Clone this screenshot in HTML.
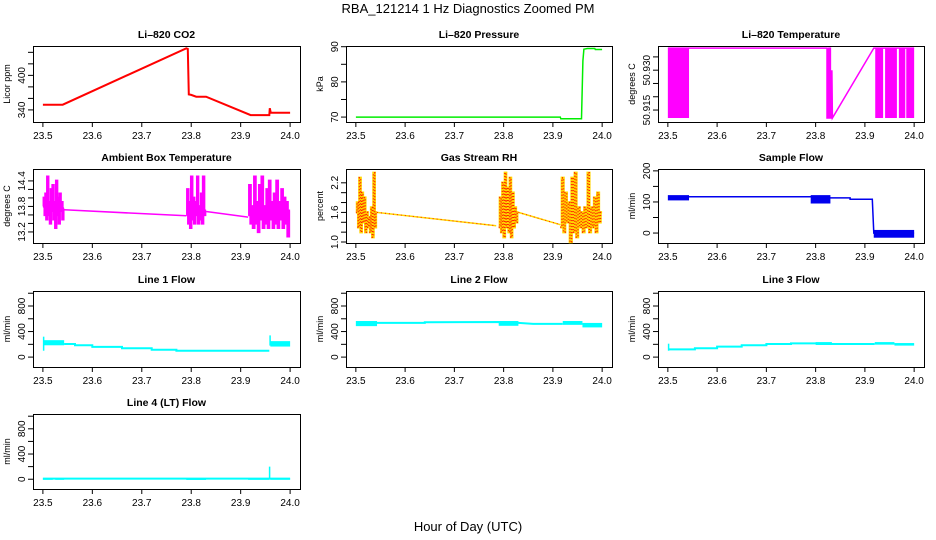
<!DOCTYPE html>
<html><head><meta charset="utf-8"><style>
body{margin:0;background:#fff;}
svg{display:block;font-family:"Liberation Sans",Arial,sans-serif;}
</style></head><body>
<svg id="chart" width="936" height="540" viewBox="0 0 936 540">
<text x="468" y="13" text-anchor="middle" font-size="13">RBA_121214  1 Hz Diagnostics Zoomed PM</text>
<text x="468" y="531" text-anchor="middle" font-size="13">Hour of Day (UTC)</text>
</svg>
<script>
// ---------- data ----------
const xTicks = [23.5, 23.6, 23.7, 23.8, 23.9, 24.0];
const xTickLabels = ["23.5", "23.6", "23.7", "23.8", "23.9", "24.0"];

const co2Line = [[23.5,349],[23.54,349],[23.79,447],[23.793,446],[23.795,367],[23.80,366],[23.81,363],[23.83,363],[23.92,331],[23.958,331],[23.959,343],[23.961,335],[24.0,335]];
const co2Ticks = [340,360,380,400,420,440];
const co2Labels = ["340","","","400","",""];

const presLine = [[23.5,70],[23.915,70],[23.916,69.5],[23.958,69.5],[23.961,86],[23.963,89.3],[23.97,89.5],[23.985,89.5],[23.986,89.2],[24.0,89.2]];
const presTicks = [70,75,80,85,90];
const presLabels = ["70","","80","","90"];

const ltBands = [[23.5,23.543,50.912,50.9383],[23.823,23.827,50.912,50.9383],[23.921,23.937,50.912,50.9383],[23.941,23.965,50.912,50.9383],[23.969,23.982,50.912,50.9383],[23.984,24.0,50.912,50.9383]];
const ltLine = [[23.5,50.9383],[23.823,50.9383],[23.823,50.912],[23.827,50.912],[23.827,50.9383],[23.83,50.9383],[23.83,50.912],[23.833,50.912],[23.833,50.93],[23.834,50.912],[23.918,50.9383],[24.0,50.9383]];
const ltTicks = [50.915,50.920,50.925,50.930,50.935];
const ltLabels = ["50.915","","","50.930",""];

const ambBurst1 = [13.8,14.0,13.6,14.1,13.5,14.5,13.6,13.9,13.4,14.2,13.7,14.3,13.5,13.9,13.3,14.4,13.6,14.0,13.4,14.1,13.7,13.9,13.5,13.75];
const ambBurst2 = [13.6,14.2,13.4,13.9,13.3,14.5,13.5,14.0,13.4,13.9,13.6,14.5,13.4,13.8,13.5,14.1,13.4,14.5,13.6,13.7];
const ambBurst3 = [13.6,14.3,13.4,13.8,13.3,14.5,13.4,13.9,13.2,14.3,13.5,14.5,13.3,13.8,13.4,14.2,13.3,14.4,13.5,13.9,13.3,14.1,13.4,14.4,13.3,13.9,13.5,14.2,13.3,14.0,13.4,13.9,13.1,13.7];
const ambLine = [[23.543,13.72],[23.79,13.58],[23.83,13.68],[23.915,13.55]];
const ambTicks = [13.2,13.4,13.6,13.8,14.0,14.2,14.4];
const ambLabels = ["13.2","","","13.8","","","14.4"];

const rhBurst1 = [1.6,1.8,1.3,2.3,1.2,2.0,1.4,1.9,1.2,1.6,1.3,1.5,1.2,1.7,1.1,2.4,1.3,1.6];
const rhBurst2 = [1.3,1.9,1.2,2.2,1.1,2.4,1.3,2.1,1.2,2.3,1.1,2.0,1.3,1.7,1.4,1.6];
const rhBurst3 = [1.3,2.3,1.2,2.0,1.4,1.8,1.0,2.3,1.2,2.4,1.1,1.7,1.3,1.6,1.2,1.7,1.3,2.4,1.2,1.7,1.3,1.9,1.2,2.0,1.4,1.6];
const rhLine = [[23.543,1.6],[23.785,1.33],[23.83,1.6],[23.915,1.35]];
const rhTicks = [1.0,1.2,1.4,1.6,1.8,2.0,2.2];
const rhLabels = ["1.0","","","1.6","","","2.2"];

const sfBands = [[23.5,23.543,105,122],[23.79,23.83,95,122],[23.918,24.0,-15,10]];
const sfLine = [[23.543,117],[23.79,117],[23.83,113],[23.87,113],[23.87,109],[23.915,109],[23.918,0],[24.0,0]];
const flowTicksSmall = [0,50,100,150,200];
const flowLabelsSmall = ["0","","100","","200"];

const l1Bands = [[23.5,23.502,100,320],[23.502,23.543,185,265],[23.958,23.96,180,340],[23.96,24.0,165,250]];
const l1Line = [[23.543,205],[23.565,205],[23.565,185],[23.6,185],[23.6,160],[23.66,160],[23.66,140],[23.72,140],[23.72,115],[23.77,115],[23.77,100],[23.958,100]];
const l2Bands = [[23.5,23.543,485,565],[23.79,23.83,490,565],[23.92,23.96,505,565],[23.96,24.0,465,535]];
const l2Line = [[23.543,535],[23.64,535],[23.64,545],[23.79,550],[23.83,535],[23.86,520],[23.92,520]];
const l3Bands = [[23.5,23.502,100,210],[23.8,23.833,190,235],[23.92,23.96,195,235],[23.96,24.0,180,220]];
const l3Line = [[23.502,120],[23.555,120],[23.555,140],[23.6,140],[23.6,165],[23.65,165],[23.65,185],[23.7,185],[23.7,205],[23.75,205],[23.75,215],[23.8,215],[23.833,205],[23.92,205]];
const l4Bands = [[23.5,23.52,-10,15],[23.525,23.543,-10,15],[23.79,23.83,-10,12],[23.915,23.958,-10,15],[23.957,23.959,0,200],[23.96,24.0,-5,15]];
const l4Line = [[23.5,10],[24.0,10]];
const flowTicks = [0,200,400,600,800,1000];
const flowLabels = ["0","","400","","800",""];

// ---------- layout ----------
const NS = "http://www.w3.org/2000/svg";
const svg = document.getElementById('chart');
const colBox = [[33,300],[346,612],[658,924]];
const rowBox = [[46,122],[169,243],[291,367],[414,489]];
function mk(tag, attrs, parent){
  const e = document.createElementNS(NS, tag);
  for (const k in attrs) e.setAttribute(k, attrs[k]);
  (parent||svg).appendChild(e);
  return e;
}
function panel(col,row,title,ylab,ymin,ymax,yt,ytl,name){
  const [bx0,bx1]=colBox[col],[by0,by1]=rowBox[row];
  const g = mk('g',{});
  
  
  const X = v => bx0 + (v-23.48)/(24.02-23.48)*(bx1-bx0);
  const Y = v => by1 - (v-ymin)/(ymax-ymin)*(by1-by0);
  const t = mk('text',{x:(bx0+bx1)/2,y:by0-8,'text-anchor':'middle','font-size':10.5,'font-weight':'bold'},g);
  t.textContent = title;
  
  
  const yl = mk('text',{transform:`translate(${bx0-23},${(by0+by1)/2}) rotate(-90)`,'text-anchor':'middle','font-size':9},g);
  yl.textContent = ylab;
  
  
  const xa = mk('g',{stroke:'#000','stroke-width':1},g);
  
  
  mk('line',{x1:X(xTicks[0]),x2:X(xTicks[xTicks.length-1]),y1:by1+0.5,y2:by1+0.5},xa);
  xTicks.forEach((v,i)=>{
    mk('line',{x1:X(v),x2:X(v),y1:by1,y2:by1+5},xa);
    const tl = mk('text',{x:X(v),y:by1+17,'text-anchor':'middle','font-size':10,stroke:'none'},g);
    tl.textContent = xTickLabels[i];
    
    
  });
  const ya = mk('g',{stroke:'#000','stroke-width':1},g);
  
  
  yt.forEach((v,i)=>{
    mk('line',{x1:bx0-5,x2:bx0,y1:Y(v),y2:Y(v)},ya);
    if(ytl[i]){
      const tl = mk('text',{transform:`translate(${bx0-8},${Y(v)}) rotate(-90)`,'text-anchor':'middle','font-size':10,stroke:'none'},g);
      tl.textContent = ytl[i];
      
      
    }
  });
  mk('line',{x1:bx0+0.5,x2:bx0+0.5,y1:Y(yt[0]),y2:Y(yt[yt.length-1])},ya);
  const box = mk('rect',{x:bx0+0.5,y:by0+0.5,width:bx1-bx0,height:by1-by0,fill:'none',stroke:'#000'},g);
  
  
  const plot = mk('g',{},g);
  
  
  return {X,Y,plot};
}
function drawLine(p,pts,color,w,name){
  const e = mk('polyline',{points:pts.map(d=>p.X(d[0]).toFixed(1)+','+p.Y(d[1]).toFixed(1)).join(' '),fill:'none',stroke:color,'stroke-width':w},p.plot);
  
  
  return e;
}
function drawBands(p,bands,color,name){
  bands.forEach(b=>{
    const x0=p.X(b[0]),x1=p.X(b[1]),y0=p.Y(b[3]),y1=p.Y(b[2]);
    const r = mk('rect',{x:x0,y:y0,width:Math.max(1.5,x1-x0),height:Math.max(1.5,y1-y0),fill:color},p.plot);
    
    
  });
}
function burst(x0,x1,vals){
  const pts=[];
  vals.forEach((v,i)=>{
    const a=x0+(x1-x0)*i/vals.length, b=x0+(x1-x0)*(i+1)/vals.length;
    pts.push([a,v],[b,v]);
  });
  return pts;
}

// ---------- panels ----------
let p;
p = panel(0,0,'Li\u2013820 CO2','Licor ppm',319,451,co2Ticks,co2Labels,'co2');
drawLine(p,co2Line,'#ff0000',2,'co2-line');

p = panel(1,0,'Li\u2013820 Pressure','kPa',68.6,90.2,presTicks,presLabels,'pressure');
drawLine(p,presLine,'#00ee00',1.5,'pressure-line');

p = panel(2,0,'Li\u2013820 Temperature','degrees C',50.9105,50.9391,ltTicks,ltLabels,'li820-temp');
drawBands(p,ltBands,'#ff00ff','li820-temp-block');
drawLine(p,ltLine,'#ff00ff',1.5,'li820-temp-line');

p = panel(0,1,'Ambient Box Temperature','degrees C',12.94,14.68,ambTicks,ambLabels,'ambient-temp');
drawLine(p,burst(23.5,23.543,ambBurst1),'#ff00ff',2.5,'ambient-burst-1');
drawLine(p,burst(23.79,23.83,ambBurst2),'#ff00ff',2.5,'ambient-burst-2');
drawLine(p,burst(23.915,24.0,ambBurst3),'#ff00ff',2.5,'ambient-burst-3');
drawLine(p,ambLine.slice(0,2),'#ff00ff',1.5,'ambient-line-1');
drawLine(p,ambLine.slice(2),'#ff00ff',1.5,'ambient-line-2');

p = panel(1,1,'Gas Stream RH','percent',0.98,2.48,rhTicks,rhLabels,'gas-rh');
[[23.5,23.543,rhBurst1],[23.79,23.83,rhBurst2],[23.915,24.0,rhBurst3]].forEach((b,i)=>{
  drawLine(p,burst(b[0],b[1],b[2]),'#ffd700',2.5,'rh-burst-'+(i+1));
  drawLine(p,burst(b[0],b[1],b[2]),'#ff2000',1.5,'rh-burst-dots-'+(i+1)).setAttribute('stroke-dasharray','1,2');
});
drawLine(p,rhLine.slice(0,2),'#ffd700',1.5,'rh-line-1');
drawLine(p,rhLine.slice(0,2),'#ff2000',1,'rh-line-dots-1').setAttribute('stroke-dasharray','1,3');
drawLine(p,rhLine.slice(2),'#ffd700',1.5,'rh-line-2');
drawLine(p,rhLine.slice(2),'#ff2000',1,'rh-line-dots-2').setAttribute('stroke-dasharray','1,3');

p = panel(2,1,'Sample Flow','ml/min',-32,206,flowTicksSmall,flowLabelsSmall,'sample-flow');
drawBands(p,sfBands,'#0000ee','sample-flow-band');
drawLine(p,sfLine,'#0000ee',1.5,'sample-flow-line');

p = panel(0,2,'Line 1 Flow','ml/min',-155,1035,flowTicks,flowLabels,'line1-flow');
drawBands(p,l1Bands,'#00ffff','line1-band');
drawLine(p,l1Line,'#00ffff',2,'line1-line');

p = panel(1,2,'Line 2 Flow','ml/min',-155,1035,flowTicks,flowLabels,'line2-flow');
drawBands(p,l2Bands,'#00ffff','line2-band');
drawLine(p,l2Line,'#00ffff',2,'line2-line');

p = panel(2,2,'Line 3 Flow','ml/min',-155,1035,flowTicks,flowLabels,'line3-flow');
drawBands(p,l3Bands,'#00ffff','line3-band');
drawLine(p,l3Line,'#00ffff',2,'line3-line');

p = panel(0,3,'Line 4 (LT) Flow','ml/min',-155,1035,flowTicks,flowLabels,'line4-flow');
drawBands(p,l4Bands,'#00ffff','line4-band');
drawLine(p,l4Line,'#00ffff',2,'line4-line');
</script>
</body></html>
